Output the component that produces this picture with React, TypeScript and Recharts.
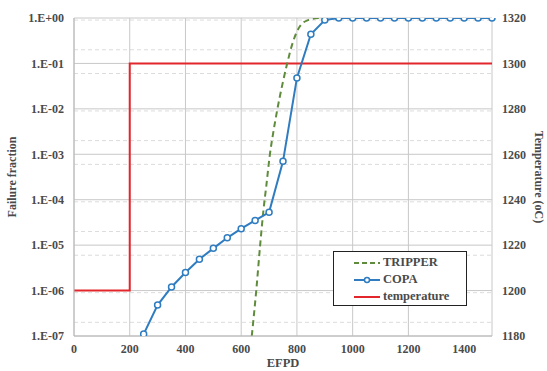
import { LineChart, Line, XAxis, YAxis, CartesianGrid, Legend } from "recharts";

// COPA failure fraction, every 50 EFPD from 250 to 1500
const copaEfpd = [250, 300, 350, 400, 450, 500, 550, 600, 650, 700, 750, 800, 850, 900, 950, 1000, 1050, 1100, 1150, 1200, 1250, 1300, 1350, 1400, 1450, 1500];
const copaFraction = [1.1e-7, 4.8e-7, 1.2e-6, 2.5e-6, 4.9e-6, 8.5e-6, 1.45e-5, 2.3e-5, 3.5e-5, 5.3e-5, 7e-4, 0.048, 0.44, 0.9, 1, 1, 1, 1, 1, 1, 1, 1, 1, 1, 1, 1];

// TRIPPER curve (dashed)
const tripperEfpd = [638, 654, 668, 680, 690, 703, 715, 730, 748, 765, 786, 810, 840, 880];
const tripperFraction = [1e-7, 1e-6, 1e-5, 6e-5, 2e-4, 1e-3, 3e-3, 1e-2, 3.5e-2, 0.1, 0.3, 0.65, 0.9, 1];

// temperature step (right axis)
const tempEfpd = [0, 200, 200, 1500];
const tempValue = [1200, 1200, 1300, 1300];

const xTicks = [0, 200, 400, 600, 800, 1000, 1200, 1400];
const logTicks = [1e-7, 1e-6, 1e-5, 1e-4, 1e-3, 1e-2, 1e-1, 1];
const tempTicks = [1180, 1200, 1220, 1240, 1260, 1280, 1300, 1320];

const minorTicks: number[] = [];
for (let k = -7; k < 0; k++) {
  for (let m = 2; m <= 9; m++) minorTicks.push(m * Math.pow(10, k));
}

const copaData = copaEfpd.map((x, i) => ({ x, y: copaFraction[i] }));
const tripperData = tripperEfpd.map((x, i) => ({ x, y: tripperFraction[i] }));
const tempData = tempEfpd.map((x, i) => ({ x, t: tempValue[i] }));

const BLUE = "#2f7cc0";
const GREEN = "#5f8c3c";
const RED = "#e3262b";
const TEXT = "#4a4a4a";
const FONT = "'Liberation Serif', 'Times New Roman', serif";

const fmtLog = (v: number) => {
  const e = Math.round(Math.log10(v));
  const s = e >= 0 ? "+" : "-";
  return `1.E${s}${String(Math.abs(e)).padStart(2, "0")}`;
};

const tickStyle = { fontSize: 12, fontWeight: 700, fill: TEXT, fontFamily: FONT };

const LegendBox = () => (
  <div
    style={{
      width: 134,
      height: 55,
      border: "1px solid #222",
      background: "#fff",
      fontFamily: FONT,
      fontWeight: 700,
      fontSize: 12.5,
      color: TEXT,
      padding: "2px 0 0 20px",
      boxSizing: "border-box",
    }}
  >
    <div style={{ display: "flex", alignItems: "center", height: 17 }}>
      <svg width={26} height={10}>
        <line x1={0} y1={5} x2={26} y2={5} stroke={GREEN} strokeWidth={2} strokeDasharray="5 3" />
      </svg>
      <span style={{ marginLeft: 3 }}>TRIPPER</span>
    </div>
    <div style={{ display: "flex", alignItems: "center", height: 17 }}>
      <svg width={26} height={10}>
        <line x1={0} y1={5} x2={26} y2={5} stroke={BLUE} strokeWidth={2} />
        <circle cx={13} cy={5} r={2.5} fill="#fff" stroke={BLUE} strokeWidth={1.5} />
      </svg>
      <span style={{ marginLeft: 3 }}>COPA</span>
    </div>
    <div style={{ display: "flex", alignItems: "center", height: 17 }}>
      <svg width={26} height={10}>
        <line x1={0} y1={5} x2={26} y2={5} stroke={RED} strokeWidth={2} />
      </svg>
      <span style={{ marginLeft: 3 }}>temperature</span>
    </div>
  </div>
);

export default function App() {
  return (
    <div style={{ position: "fixed", left: 0, top: 0, width: 547, height: 371, background: "#fff" }}>
      <LineChart width={547} height={371} margin={{ top: 18, right: 10, bottom: 10, left: 14 }}>
        <CartesianGrid
          yAxisId="left"
          horizontalValues={minorTicks}
          vertical={false}
          stroke="#dcdcdc"
          strokeDasharray="4 3"
        />
        <CartesianGrid
          yAxisId="left"
          horizontalValues={logTicks}
          verticalValues={[...xTicks, 1500]}
          stroke="#c8c8c8"
        />
        <XAxis
          type="number"
          dataKey="x"
          domain={[0, 1500]}
          ticks={xTicks}
          height={25}
          tick={tickStyle}
          tickLine={false}
          axisLine={{ stroke: "#b8b8b8" }}
          label={{ value: "EFPD", position: "bottom", offset: -3, style: { ...tickStyle, fontSize: 12.5 } }}
        />
        <YAxis
          yAxisId="left"
          scale="log"
          domain={[1e-7, 1]}
          ticks={logTicks}
          allowDataOverflow
          width={60}
          tick={tickStyle}
          tickFormatter={fmtLog}
          tickLine={false}
          tickMargin={4}
          axisLine={{ stroke: "#b8b8b8" }}
          label={{ value: "Failure fraction", angle: -90, position: "insideLeft", offset: -2, style: { ...tickStyle, textAnchor: "middle" } }}
        />
        <YAxis
          yAxisId="right"
          orientation="right"
          domain={[1180, 1320]}
          ticks={tempTicks}
          width={45}
          tick={tickStyle}
          tickLine={false}
          tickMargin={4}
          axisLine={false}
          label={{ value: "Temperature (oC)", angle: 90, position: "insideRight", offset: -2, style: { ...tickStyle, textAnchor: "middle" } }}
        />
        <Legend
          layout="vertical"
          align="center"
          verticalAlign="middle"
          content={() => <LegendBox />}
          wrapperStyle={{ position: "absolute", left: 333, top: 251, width: 134 }}
        />
        <Line
          yAxisId="right"
          data={tempData}
          dataKey="t"
          type="linear"
          stroke={RED}
          strokeWidth={2}
          dot={false}
          isAnimationActive={false}
        />
        <Line
          yAxisId="left"
          data={tripperData}
          dataKey="y"
          type="monotone"
          stroke={GREEN}
          strokeWidth={2}
          strokeDasharray="6 4"
          dot={false}
          isAnimationActive={false}
        />
        <Line
          yAxisId="left"
          data={copaData}
          dataKey="y"
          type="linear"
          stroke={BLUE}
          strokeWidth={2}
          dot={{ r: 3, fill: "#fff", stroke: BLUE, strokeWidth: 1.5 }}
          isAnimationActive={false}
        />
      </LineChart>
    </div>
  );
}
